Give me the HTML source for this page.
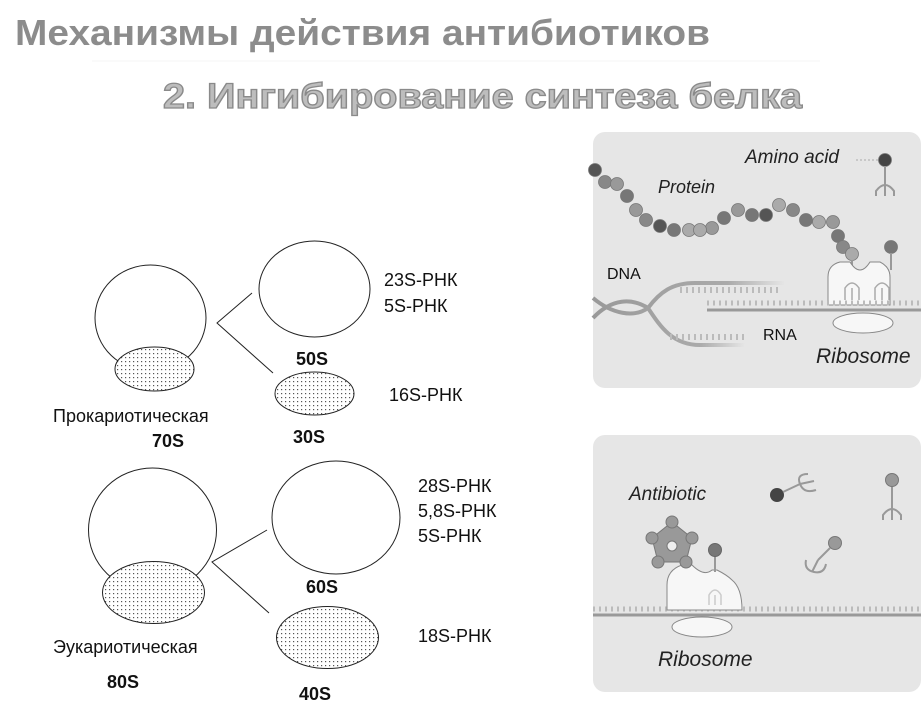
<!DOCTYPE html>
<html><head><meta charset="utf-8"><style>
html,body{margin:0;padding:0;background:#fff;}
svg{display:block;}
.t{font-family:"Liberation Sans",sans-serif;font-size:18px;fill:#111;}
.b{font-weight:bold;}
.i{font-family:"Liberation Sans",sans-serif;font-style:italic;font-size:19px;fill:#222;}
</style></head><body>
<svg width="923" height="718" viewBox="0 0 923 718" xmlns="http://www.w3.org/2000/svg">
<defs>
<pattern id="dots" width="4" height="4" patternUnits="userSpaceOnUse">
<rect width="4" height="4" fill="#fff"/><rect x="1" y="1" width="1.2" height="1.2" fill="#555"/>
</pattern>
<linearGradient id="fade" x1="0" x2="1"><stop offset="0" stop-color="#999"/><stop offset="0.7" stop-color="#aaa"/><stop offset="1" stop-color="#e6e6e6"/></linearGradient>
</defs>
<!-- titles -->
<text x="15" y="45" font-family="Liberation Sans, sans-serif" font-weight="bold" font-size="36" fill="#8c8c8c" textLength="695" lengthAdjust="spacingAndGlyphs">Механизмы действия антибиотиков</text>
<line x1="92" y1="61" x2="820" y2="61" stroke="#f5f5f5" stroke-width="1"/>
<text x="163" y="108" font-family="Liberation Sans, sans-serif" font-weight="bold" font-size="35" fill="#bdbdbd" stroke="#8a8a8a" stroke-width="1.3" textLength="639" lengthAdjust="spacingAndGlyphs">2. Ингибирование синтеза белка</text>

<!-- prokaryote -->
<g stroke="#222" stroke-width="1">
<ellipse cx="150.5" cy="318" rx="55.5" ry="53" fill="#fff"/>
<ellipse cx="154.5" cy="369" rx="39.5" ry="22" fill="url(#dots)"/>
<ellipse cx="314.5" cy="289" rx="55.5" ry="48" fill="#fff"/>
<ellipse cx="314.5" cy="393.5" rx="39.5" ry="21.5" fill="url(#dots)"/>
<polyline points="252,293 217,323 273,373" fill="none"/>
<ellipse cx="152.5" cy="530" rx="64" ry="62" fill="#fff"/>
<ellipse cx="153.5" cy="592.5" rx="51" ry="31" fill="url(#dots)"/>
<ellipse cx="336" cy="517.5" rx="64" ry="56.5" fill="#fff"/>
<ellipse cx="327.5" cy="637.5" rx="51" ry="31" fill="url(#dots)"/>
<polyline points="267,530 212,562 269,613" fill="none"/>
</g>
<text class="t" x="384" y="286">23S-РНК</text>
<text class="t" x="384" y="312">5S-РНК</text>
<text class="t b" x="296" y="365">50S</text>
<text class="t" x="389" y="401">16S-РНК</text>
<text class="t" x="53" y="422">Прокариотическая</text>
<text class="t b" x="152" y="447">70S</text>
<text class="t b" x="293" y="443">30S</text>
<text class="t" x="418" y="492">28S-РНК</text>
<text class="t" x="418" y="517">5,8S-РНК</text>
<text class="t" x="418" y="542">5S-РНК</text>
<text class="t b" x="306" y="593">60S</text>
<text class="t" x="418" y="642">18S-РНК</text>
<text class="t" x="53" y="653">Эукариотическая</text>
<text class="t b" x="107" y="688">80S</text>
<text class="t b" x="299" y="700">40S</text>

<!-- panel 1 -->
<rect x="593" y="132" width="328" height="256" rx="12" fill="#e6e6e6"/>
<g stroke="#777" stroke-width="0.8">
<circle cx="595" cy="170" r="6.5" fill="#555"/>
<circle cx="605" cy="182" r="6.5" fill="#888"/>
<circle cx="617" cy="184" r="6.5" fill="#999"/>
<circle cx="627" cy="196" r="6.5" fill="#777"/>
<circle cx="636" cy="210" r="6.5" fill="#999"/>
<circle cx="646" cy="220" r="6.5" fill="#888"/>
<circle cx="660" cy="226" r="6.5" fill="#555"/>
<circle cx="674" cy="230" r="6.5" fill="#777"/>
<circle cx="689" cy="230" r="6.5" fill="#aaa"/>
<circle cx="712" cy="228" r="6.5" fill="#999"/>
<circle cx="724" cy="218" r="6.5" fill="#777"/>
<circle cx="700" cy="230" r="6.5" fill="#aaa"/>
<circle cx="738" cy="210" r="6.5" fill="#999"/>
<circle cx="752" cy="215" r="6.5" fill="#777"/>
<circle cx="766" cy="215" r="6.5" fill="#555"/>
<circle cx="779" cy="205" r="6.5" fill="#aaa"/>
<circle cx="793" cy="210" r="6.5" fill="#888"/>
<circle cx="806" cy="220" r="6.5" fill="#777"/>
<circle cx="819" cy="222" r="6.5" fill="#aaa"/>
<circle cx="833" cy="222" r="6.5" fill="#999"/>
<circle cx="838" cy="236" r="6.5" fill="#777"/>
<circle cx="843" cy="247" r="6.5" fill="#888"/>
<circle cx="852" cy="254" r="6.5" fill="#aaa"/>
<circle cx="891" cy="247" r="6.5" fill="#777"/>
<circle cx="885" cy="160" r="6.5" fill="#444"/>
</g>
<line x1="856" y1="160" x2="878" y2="160" stroke="#aaa" stroke-dasharray="2,2"/>
<g stroke="#999" stroke-width="2" fill="none">
<line x1="885" y1="166" x2="885" y2="185"/>
<path d="M876,196 v-5 q9,-12 18,0 v5 M885,196 v-11"/>
<line x1="852" y1="260" x2="852" y2="270"/><line x1="891" y1="253" x2="891" y2="270"/>
</g>
<path d="M828,305 v-28 q0,-12 12,-15 h10 q5,8 10,8 t10,-8 h10 q10,5 10,15 v28 z" fill="#f7f7f7" stroke="#888"/>
<g stroke="#aaa" stroke-width="1.5" fill="none"><path d="M845,300 v-12 q7,-10 14,0 v12 M852,300 v-12"/><path d="M875,300 v-12 q7,-10 14,0 v12 M882,300 v-12"/></g>
<g stroke="url(#fade)" stroke-width="4" fill="none">
<path d="M593,318 C612,298 632,298 648,308 C660,292 672,283 695,283 L785,283"/>
<path d="M593,298 C612,314 634,318 648,308 C660,326 672,345 700,345 L745,345"/>
</g>
<line x1="707" y1="310" x2="921" y2="310" stroke="#999" stroke-width="3"/>
<line x1="707" y1="303" x2="921" y2="303" stroke="#bbb" stroke-width="5" stroke-dasharray="2,4"/>
<line x1="680" y1="290" x2="780" y2="290" stroke="#bbb" stroke-width="6" stroke-dasharray="2,4"/>
<line x1="670" y1="337" x2="745" y2="337" stroke="#bbb" stroke-width="6" stroke-dasharray="2,4"/>
<ellipse cx="863" cy="323" rx="30" ry="10" fill="#f7f7f7" stroke="#888"/>
<text class="i" x="745" y="163">Amino acid</text>
<text class="i" style="font-size:18px" x="658" y="193">Protein</text>
<text class="t" style="font-size:16px" x="607" y="279">DNA</text>
<text class="t" style="font-size:16px" x="763" y="340">RNA</text>
<text class="i" style="font-size:21px" x="816" y="363">Ribosome</text>

<!-- panel 2 -->
<rect x="593" y="435" width="328" height="257" rx="12" fill="#e6e6e6"/>
<line x1="593" y1="615" x2="921" y2="615" stroke="#999" stroke-width="3"/>
<line x1="593" y1="609" x2="921" y2="609" stroke="#bbb" stroke-width="5" stroke-dasharray="2,4"/>
<path d="M667,610 v-25 q0,-15 15,-20 h10 q12,12 20,5 h5 q10,5 15,10 q10,8 10,30 z" fill="#f7f7f7" stroke="#888"/>
<path d="M709,605 v-10 q6,-10 12,0 v10 M715,605 v-10" stroke="#ccc" stroke-width="1.5" fill="none"/>
<line x1="715" y1="556" x2="715" y2="572" stroke="#999" stroke-width="2"/>
<circle cx="715" cy="550" r="6.5" fill="#777" stroke="#666"/>
<ellipse cx="702" cy="627" rx="30" ry="10" fill="#f7f7f7" stroke="#888"/>
<g fill="#999" stroke="#777">
<polygon points="672,522 692,538 686,562 658,562 652,538"/>
<circle cx="672" cy="522" r="6"/><circle cx="692" cy="538" r="6"/><circle cx="686" cy="562" r="6"/><circle cx="658" cy="562" r="6"/><circle cx="652" cy="538" r="6"/>
</g>
<circle cx="672" cy="546" r="5" fill="#eee" stroke="#777"/>
<circle cx="777" cy="495" r="7" fill="#444"/>
<g stroke="#999" stroke-width="2" fill="none">
<line x1="783" y1="492" x2="800" y2="484"/>
<path d="M808,474 q-12,0 -8,10 q4,10 16,6 M800,484 l14,-3"/>
<line x1="892" y1="487" x2="892" y2="510"/>
<path d="M883,520 v-5 q9,-12 18,0 v5 M892,520 v-10"/>
<line x1="830" y1="548" x2="818" y2="560"/>
<path d="M806,560 q-2,10 8,12 q10,2 12,-8 M818,560 l-6,12"/>
</g>
<circle cx="892" cy="480" r="6.5" fill="#999" stroke="#777"/>
<circle cx="835" cy="543" r="6.5" fill="#999" stroke="#777"/>
<text class="i" x="629" y="500">Antibiotic</text>
<text class="i" style="font-size:21px" x="658" y="666">Ribosome</text>
</svg>
</body></html>
